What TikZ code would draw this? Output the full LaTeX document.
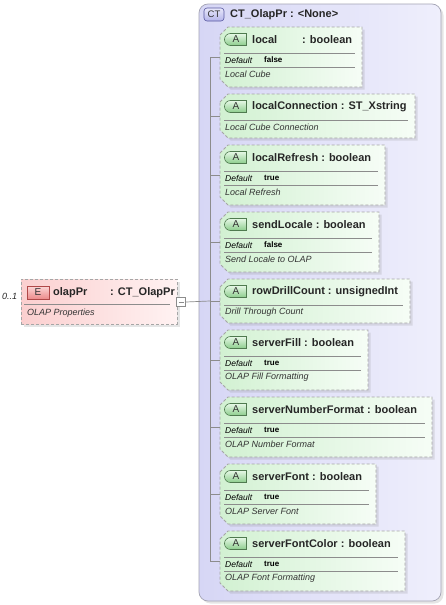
\documentclass[tikz,border=0pt]{standalone}
\usepackage{fontspec}
\setmainfont{Liberation Sans}
\usetikzlibrary{shapes.misc,shadows}
\definecolor{ctL}{HTML}{D6D6F5}
\definecolor{ctR}{HTML}{EFEFFC}
\definecolor{ctEdge}{HTML}{A4A4B4}
\definecolor{atL}{HTML}{D2F1D2}
\definecolor{atR}{HTML}{F6FDF6}
\definecolor{dashc}{HTML}{A6A6A6}
\definecolor{elL}{HTML}{FBCFCF}
\definecolor{elR}{HTML}{FFF2F2}
\definecolor{abTop}{HTML}{E6F8E6}
\definecolor{abBot}{HTML}{8CCD8C}
\definecolor{abEdge}{HTML}{4F7A4F}
\definecolor{ebTop}{HTML}{FCD6D6}
\definecolor{ebBot}{HTML}{EC8A8A}
\definecolor{ebEdge}{HTML}{B04848}
\definecolor{cbTop}{HTML}{E8E8FB}
\definecolor{cbBot}{HTML}{B4B4EA}
\definecolor{cbEdge}{HTML}{5858A0}
\definecolor{linec}{HTML}{8C8C8C}
\begin{document}
\begin{tikzpicture}[x=1pt,y=-1pt,
  ttl/.style={anchor=west,inner sep=0pt,font=\fontsize{11}{13}\selectfont\bfseries,text=black!85},
  dsc/.style={anchor=west,inner sep=0pt,font=\fontsize{9}{11}\selectfont\itshape,text=black!80},
  dfl/.style={anchor=west,inner sep=0pt,font=\fontsize{8.5}{10}\selectfont\itshape,text=black},
  dval/.style={anchor=west,inner sep=0pt,font=\fontsize{8}{10}\selectfont\bfseries,text=black},
  sepline/.style={draw=linec,line width=0.6pt},
  conn/.style={draw=linec,line width=0.7pt},
  boxshadow/.style={drop shadow={shadow xshift=2.5pt,shadow yshift=-2.5pt,opacity=0.2}},
  attrbox/.style={draw=dashc,dash pattern=on 3pt off 2pt,line width=0.8pt,
    left color=atL,right color=atR,boxshadow},
  abadge/.style={rounded rectangle,rounded rectangle right arc=none,minimum width=22pt,
    minimum height=12pt,inner sep=0pt,draw=abEdge,line width=0.6pt,top color=abTop,bottom color=abBot,
    font=\fontsize{10}{11}\selectfont,text=black!80},
  elbox/.style={rectangle,inner sep=0pt,draw=dashc,dash pattern=on 3pt off 2pt,line width=0.8pt,
    left color=elL,right color=elR,boxshadow},
  ebadge/.style={rectangle,minimum width=22pt,minimum height=13pt,inner sep=0pt,draw=ebEdge,
    line width=0.6pt,top color=ebTop,bottom color=ebBot,font=\fontsize{10}{11}\selectfont,text=black!80},
  ctbox/.style={rectangle,rounded corners=9pt,inner sep=0pt,draw=ctEdge,line width=0.7pt,
    left color=ctL,right color=ctR,boxshadow},
  cbadge/.style={rectangle,rounded corners=3pt,minimum width=20pt,minimum height=13pt,inner sep=0pt,
    draw=cbEdge,line width=0.6pt,top color=cbTop,bottom color=cbBot,font=\fontsize{9.5}{10}\selectfont,text=black!80},
  expander/.style={rectangle,draw=linec,fill=white,line width=0.6pt,minimum size=9pt,inner sep=0pt,
    path picture={\draw[linec,line width=0.6pt] ([xshift=2pt]path picture bounding box.west) -- ([xshift=-2pt]path picture bounding box.east);}}
]
\useasboundingbox (0,0) rectangle (445,605);
\fill[white] (0,0) rectangle (445,605);

% container
\node[ctbox,minimum width=242pt,minimum height=597pt] (ct) at (320,302.5) {};
\node[cbadge] (ctb) at (214,14.5) {CT};
\node[ttl] (ctt) at (230,14.5) {CT\_OlapPr : <None>};

% #1 id, #2 top, #3 right, #4 height
\newcommand\attrshape[4]{%
  \path[attrbox] (220,{#2+8}) -- (228,#2) -- (#3,#2) -- (#3,{#2+#4}) -- (228,{#2+#4}) -- (220,{#2+#4-8}) -- cycle;
  \coordinate (#1w) at (220,{#2+#4/2});
  \coordinate (#1s) at (210,{#2+#4/2});
  \node[abadge] (#1b) at (236,{#2+12.5}) {A};
}
\newcommand\attrD[6]{%
  \attrshape{#1}{#2}{#3}{60}
  \node[ttl] (#1t) at (252,{#2+12.5}) {#4};
  \draw[sepline] (224,{#2+26}) -- ({#3-7},{#2+26});
  \node[dfl] (#1d) at (225,{#2+33}) {Default};
  \node[dval] (#1v) at (264,{#2+33}) {#5};
  \draw[sepline] (224,{#2+40}) -- ({#3-7},{#2+40});
  \node[dsc] (#1x) at (225,{#2+47.5}) {#6};
  \draw[conn] (#1s) -- (#1w);
}
\newcommand\attrN[5]{%
  \attrshape{#1}{#2}{#3}{44}
  \node[ttl] (#1t) at (252,{#2+12.5}) {#4};
  \draw[sepline] (224,{#2+26}) -- ({#3-7},{#2+26});
  \node[dsc] (#1x) at (225,{#2+33.5}) {#5};
  \draw[conn] (#1s) -- (#1w);
}

\attrD{bA}{27}{362}{\makebox[50pt][l]{local}: boolean}{false}{Local Cube}
\attrN{bB}{94}{415}{localConnection : ST\_Xstring}{Local Cube Connection}
\attrD{bC}{145}{385}{localRefresh : boolean}{true}{Local Refresh}
\attrD{bD}{212}{379}{sendLocale : boolean}{false}{Send Locale to OLAP}
\attrN{bE}{279}{410}{rowDrillCount : unsignedInt}{Drill Through Count}
\attrD{bF}{330}{368}{serverFill : boolean}{true}{OLAP Fill Formatting}
\attrD{bG}{397}{432}{serverNumberFormat : boolean}{true}{OLAP Number Format}
\attrD{bH}{464}{376}{serverFont : boolean}{true}{OLAP Server Font}
\attrD{bI}{531}{405}{serverFontColor : boolean}{true}{OLAP Font Formatting}

\draw[conn] (bAs) -- (bIs);

% element
\node[elbox,minimum width=156pt,minimum height=45pt] (el) at (99,301.5) {};
\node[ebadge] (elb) at (38,292.5) {E};
\node[ttl] (elt) at (53,292.5) {\makebox[57pt][l]{olapPr}: CT\_OlapPr};
\draw[sepline] (24,304.5) -- (170,304.5);
\node[dsc] (elx) at (27,313) {OLAP Properties};
\node[dsc,text=black!85] (occ) at (2,296) {0..1};
\node[expander] (exp) at (181,302) {};
\draw[conn] (exp.east) -- (bEs);
\end{tikzpicture}
\end{document}
